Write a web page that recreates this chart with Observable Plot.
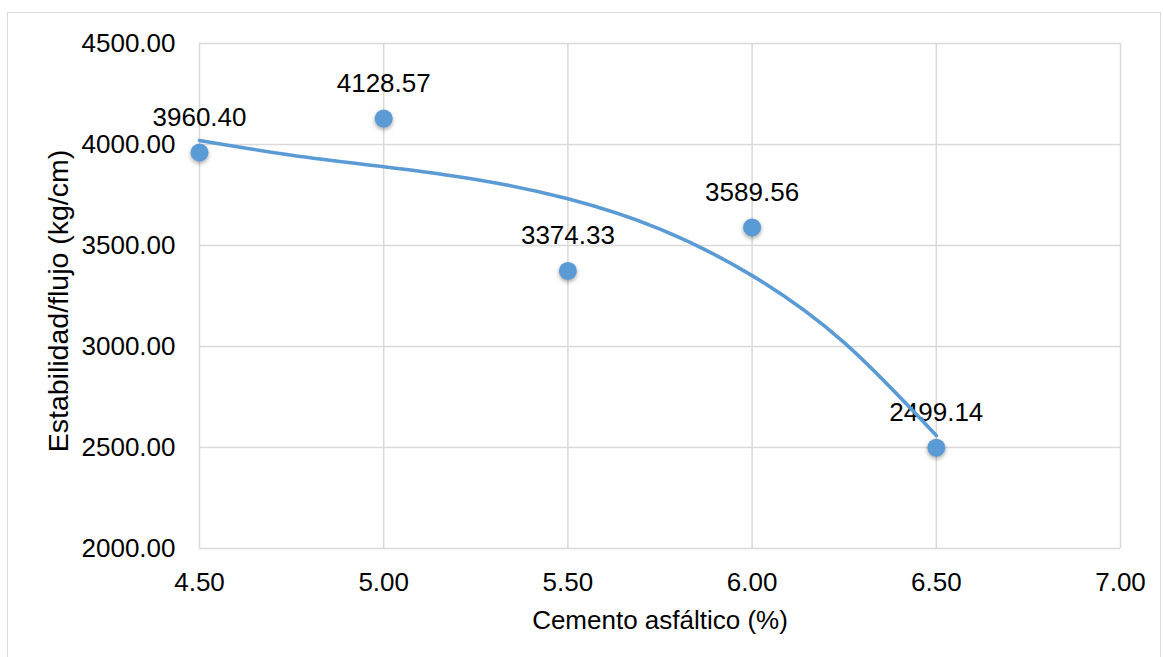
<!DOCTYPE html>
<html>
<head>
<meta charset="utf-8">
<script src="https://cdn.jsdelivr.net/npm/d3@7"></script>
<script src="https://cdn.jsdelivr.net/npm/@observablehq/plot@0.6"></script>
<style>
  html, body { margin: 0; padding: 0; background: #fff; }
  #wrap { position: relative; width: 1163px; height: 657px; overflow: hidden; }
  #frame { position: absolute; left: 7px; top: 12px; width: 1154px; height: 700px; border: 1.5px solid #d9d9d9; box-sizing: border-box; }
  #chart { position: absolute; left: 0; top: 0; }
  #chart svg { font-family: "Liberation Sans", Arial, sans-serif; }
</style>
</head>
<body>
<div id="wrap"><div id="frame"></div><div id="chart"></div></div>
<script>
// Data points
const cemento = [4.5, 5.0, 5.5, 6.0, 6.5];
const estabilidad = [3960.40, 4128.57, 3374.33, 3589.56, 2499.14];
// Trendline values
const trendX = [4.5, 4.75, 5.0, 5.25, 5.5, 5.75, 6.0, 6.25, 6.5];
const trendY = [4020, 3947, 3890, 3827, 3731, 3581, 3351, 3019, 2559];
// Axis ticks
const xTicks = [4.5, 5.0, 5.5, 6.0, 6.5, 7.0];
const yTicks = [2000, 2500, 3000, 3500, 4000, 4500];
const xTitle = "Cemento asfáltico (%)";
const yTitle = "Estabilidad/flujo (kg/cm)";

const points = cemento.map((x, i) => ({x, y: estabilidad[i]}));
const trend = trendX.map((x, i) => ({x, y: trendY[i]}));
const blue = "#5B9BD5";
const fmt = d3.format(".2f");
const fs = 26;

const chart = Plot.plot({
  width: 1163,
  height: 657,
  marginLeft: 199,
  marginRight: 43,
  marginTop: 43,
  marginBottom: 109,
  style: {fontSize: fs + "px", fontFamily: "'Liberation Sans', Arial, sans-serif", color: "#000", background: "transparent"},
  x: {domain: [4.5, 7.0]},
  y: {domain: [2000, 4500]},
  marks: [
    Plot.gridX(xTicks, {stroke: "#d9d9d9", strokeOpacity: 1, strokeWidth: 1.5}),
    Plot.gridY(yTicks, {stroke: "#d9d9d9", strokeOpacity: 1, strokeWidth: 1.5}),
    Plot.axisX(xTicks, {tickSize: 0, tickPadding: 24, tickFormat: fmt, label: null, fontSize: fs, fill: "#000"}),
    Plot.axisY(yTicks, {tickSize: 0, tickPadding: 24, tickFormat: fmt, label: null, fontSize: fs, fill: "#000"}),
    Plot.text([xTitle], {frameAnchor: "bottom", dy: 72, lineAnchor: "middle", textAnchor: "middle", fontSize: fs, fill: "#000"}),
    Plot.text([yTitle], {frameAnchor: "left", dx: -141, dy: 5, rotate: -90, lineAnchor: "middle", textAnchor: "middle", fontSize: 28.5, fill: "#000"}),
    Plot.text(points, {x: "x", y: "y", text: d => fmt(d.y), dy: -35, lineAnchor: "middle", fontSize: fs, fill: "#000"}),
    Plot.line(trend, {x: "x", y: "y", curve: "natural", stroke: blue, strokeWidth: 3.6}),
    Plot.dot(points, {x: "x", y: "y", r: 9, fill: blue, stroke: "none"})
  ]
});
chart.querySelectorAll("circle").forEach(c => c.style.filter = "drop-shadow(0px 2px 2px rgba(0,0,0,0.35))");
document.getElementById("chart").appendChild(chart);
</script>
</body>
</html>
